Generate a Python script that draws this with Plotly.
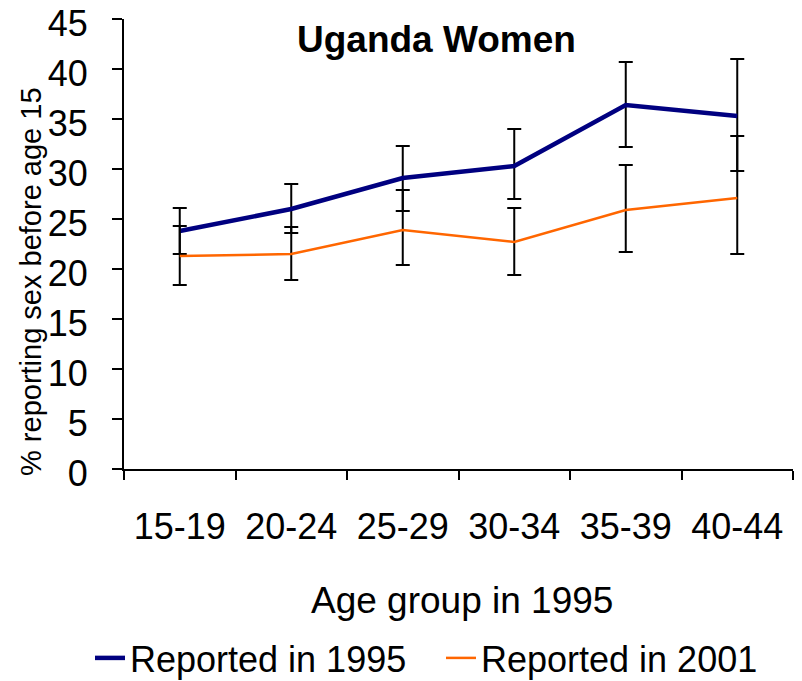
import plotly.graph_objects as go

categories = ["15-19", "20-24", "25-29", "30-34", "35-39", "40-44"]
v1995 = [23.8, 26.0, 29.1, 30.3, 36.4, 35.3]
hi1995 = [26.1, 28.5, 32.3, 34.0, 40.7, 41.0]
lo1995 = [21.5, 23.6, 25.8, 27.0, 32.2, 29.8]
v2001 = [21.3, 21.5, 23.9, 22.7, 25.9, 27.1]
hi2001 = [24.3, 24.2, 27.9, 26.1, 30.4, 33.3]
lo2001 = [18.4, 18.9, 20.4, 19.4, 21.7, 21.5]

FONT = "Liberation Sans, Arial, sans-serif"

# page body has an 8px default margin; geometry below is in figure pixels
OFF = 8
W, H = 794, 673
L, R, T, B = 116, 9, 11, 212
PW, PH = W - L - R, H - T - B

def px(x):
    return (x - OFF - L) / PW

def py(y):
    return (H - B - (y - OFF)) / PH

def err(vals, hi, lo):
    return dict(type="data", symmetric=False,
                array=[h - v for h, v in zip(hi, vals)],
                arrayminus=[v - l for v, l in zip(vals, lo)],
                color="black", thickness=2, width=7)

fig = go.Figure()
fig.add_trace(go.Scatter(x=categories, y=v1995, mode="lines", name="Reported in 1995",
                         line=dict(color="#000080", width=4.5),
                         error_y=err(v1995, hi1995, lo1995)))
fig.add_trace(go.Scatter(x=categories, y=v2001, mode="lines", name="Reported in 2001",
                         line=dict(color="#FF6600", width=2.5),
                         error_y=err(v2001, hi2001, lo2001)))

fig.update_layout(
    width=W, height=H,
    margin=dict(l=L, r=R, t=T, b=B, autoexpand=False),
    paper_bgcolor="white", plot_bgcolor="white",
    font=dict(family=FONT, color="black", size=35),
    showlegend=True,
    legend=dict(orientation="h", x=px(90), xanchor="left", y=py(658), yanchor="middle",
                font=dict(size=36, family=FONT), tracegroupgap=0,
                entrywidth=306, entrywidthmode="pixels",
                bgcolor="rgba(0,0,0,0)"),
    annotations=[
        dict(text="<b>Uganda Women</b>", x=px(436), y=py(40), xref="paper", yref="paper",
             xanchor="center", yanchor="middle", showarrow=False,
             font=dict(size=37, family=FONT)),
        dict(text="Age group in 1995", x=px(462), y=py(600), xref="paper", yref="paper",
             xanchor="center", yanchor="middle", showarrow=False,
             font=dict(size=37, family=FONT)),
        dict(text="% reporting sex before age 15", x=px(31), y=py(282), xref="paper", yref="paper",
             xanchor="center", yanchor="middle", textangle=-90, showarrow=False,
             font=dict(size=29, family=FONT)),
    ],
)

fig.update_xaxes(range=[-0.5, 5.5], showline=True, linecolor="black", linewidth=2, showgrid=False,
                 ticks="outside", ticklen=9, tickwidth=2, tickcolor="black",
                 tickson="boundaries", ticklabelstandoff=25, ticklabeloverflow="allow",
                 tickfont=dict(size=36, family=FONT), zeroline=False)
fig.update_yaxes(range=[0, 45], dtick=5, showline=True, linecolor="black", linewidth=2,
                 showgrid=False, ticks="outside", ticklen=10, tickwidth=2, tickcolor="black",
                 ticklabelstandoff=17, ticklabelshift=4, ticklabeloverflow="allow",
                 tickfont=dict(size=36, family=FONT), zeroline=False)

fig.write_html("out.html")
